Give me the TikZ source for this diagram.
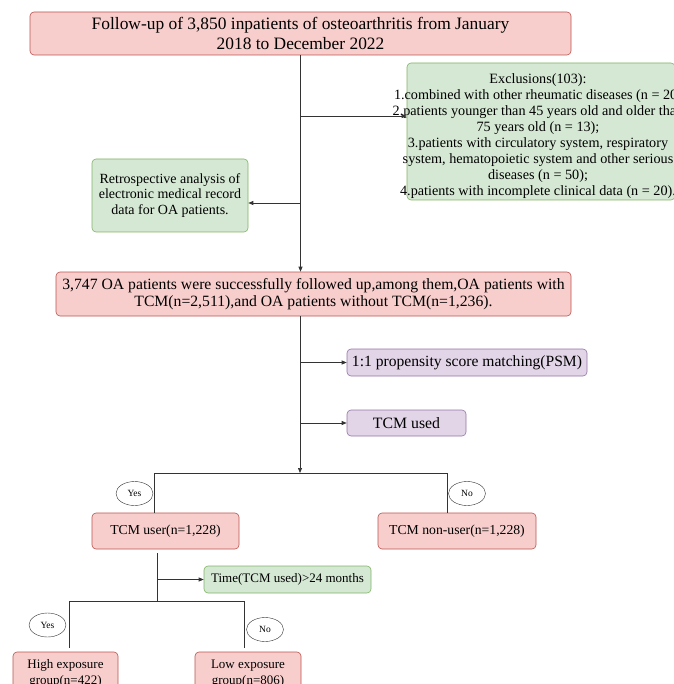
\documentclass[tikz,border=0pt]{standalone}
\usepackage{fontspec}
\setmainfont{Liberation Serif}
\usetikzlibrary{positioning}
\usetikzlibrary{shapes.geometric,arrows.meta}
\definecolor{fillred}{HTML}{F8CECC}
\definecolor{drawred}{HTML}{B85450}
\definecolor{fillgreen}{HTML}{D5E8D4}
\definecolor{drawgreen}{HTML}{82B366}
\definecolor{fillpurple}{HTML}{E1D5E7}
\definecolor{drawpurple}{HTML}{9673A6}
\definecolor{linegray}{HTML}{333333}

\begin{document}
\begin{tikzpicture}[x=1pt,y=-1pt]

    \tikzset{
        box/.style={
            rounded corners=4pt,
            inner sep=0pt,
            align=center,
            line width=0.6pt
        },
        redbox/.style={box, draw=drawred, fill=fillred},
        greenbox/.style={box, draw=drawgreen, fill=fillgreen},
        purplebox/.style={box, draw=drawpurple, fill=fillpurple},
        choice/.style={
            draw=linegray,
            ellipse,
            fill=white,
            inner sep=0pt,
            minimum width=37pt,
            minimum height=24pt,
            font=\fontsize{9.5}{11}\selectfont
        },
        link/.style={draw=linegray, line width=0.7pt},
        arrow/.style={link, -{Triangle[length=5pt,width=4pt]}}
    }
    \useasboundingbox (0,0) rectangle (673,684);

    \node[redbox, minimum width=541pt, minimum height=43pt,
        font=\fontsize{17.4}{20}\selectfont] (start) at (300.5,33.5)
        {Follow-up of 3,850 inpatients of osteoarthritis from January\\2018 to December 2022};
    \node[greenbox, minimum width=268pt, minimum height=137pt] (excl) at (541,131.5) {};
    \node[align=center, inner sep=0pt, font=\fontsize{14.2}{16}\selectfont] (excltext) at (538,136.5)
        {Exclusions(103):\\
        1.combined with other rheumatic diseases (n = 20)\\
        2.patients younger than 45 years old and older than\\
        75 years old (n = 13);\\
        3.patients with circulatory system, respiratory\\
        system, hematopoietic system and other serious\\
        diseases (n = 50);\\
        4.patients with incomplete clinical data (n = 20).};
    \node[greenbox, minimum width=156pt, minimum height=73pt,
        font=\fontsize{14}{15.5}\selectfont] (retro) at (170,195.5)
        {Retrospective analysis of\\electronic medical record\\data for OA patients.};
    \node[redbox, minimum width=515pt, minimum height=44pt,
        font=\fontsize{15.7}{17}\selectfont] (follow) at (313.5,294)
        {3,747 OA patients were successfully followed up,among them,OA patients with\\TCM(n=2,511),and OA patients without TCM(n=1,236).};
    \node[purplebox, minimum width=240pt, minimum height=27pt,
        font=\fontsize{15.6}{17}\selectfont] (psm) at (467,362.5)
        {1:1 propensity score matching(PSM)};
    \node[purplebox, minimum width=119pt, minimum height=26pt,
        font=\fontsize{15.8}{17}\selectfont] (used) at (406.5,423) {TCM used};

    \node[redbox, minimum width=147pt, minimum height=36pt,
        font=\fontsize{13.7}{16}\selectfont] (user) at (165.5,531) {TCM user(n=1,228)};
    \node[redbox, minimum width=158pt, minimum height=36pt,
        font=\fontsize{13.7}{16}\selectfont] (nonuser) at (457,531) {TCM non-user(n=1,228)};
    \node[greenbox, minimum width=167pt, minimum height=27pt,
        font=\fontsize{13}{15}\selectfont] (time) at (287.5,579.5) {Time(TCM used)>24 months};
    \node[redbox, minimum width=105pt, minimum height=43pt,
        font=\fontsize{13}{16}\selectfont] (high) at (65.5,673.5) {High exposure\\group(n=422)};
    \node[redbox, minimum width=106pt, minimum height=43pt,
        font=\fontsize{13}{16}\selectfont] (low) at (248,673.5) {Low exposure\\group(n=806)};

    \coordinate (exclfork) at (300,116);
    \coordinate (retrofork) at (300,203);
    \coordinate (split) at (300,473);
    \coordinate (yesturn) at (154,473);
    \coordinate (noturn) at (447,473);
    \coordinate (userfork) at (157,553);
    \coordinate (subsplit) at (157,601);
    \coordinate (highturn) at (69,601);
    \coordinate (lowturn) at (244,601);

    \draw[arrow] (start.south) -- (start.south |- follow.north);
    \draw[arrow] (exclfork) -- (exclfork -| excl.west);
    \draw[arrow] (retrofork) -- (retrofork -| retro.east);
    \draw[arrow] (follow.south -| split) -- (split);
    \draw[arrow] (psm.west -| split) -- (psm.west);
    \draw[arrow] (used.west -| split) -- (used.west);

    \draw[link] (yesturn |- user.north) -- (yesturn) -- (noturn) -- (noturn |- nonuser.north);
    \node[choice] (yesa) at (134.5,493.5) {Yes};
    \node[choice] (noa) at (467,493.5) {No};

    \draw[link] (userfork) -- (subsplit);
    \draw[arrow] (time.west -| userfork) -- (time.west);
    \draw[link, shorten <=4pt, shorten >=4pt] (highturn |- high.north) -- (highturn) -- (lowturn) -- (lowturn |- low.north);
    \node[choice] (yesb) at (47.5,625) {Yes};
    \node[choice] (nob) at (265,629.5) {No};

\end{tikzpicture}
\end{document}
